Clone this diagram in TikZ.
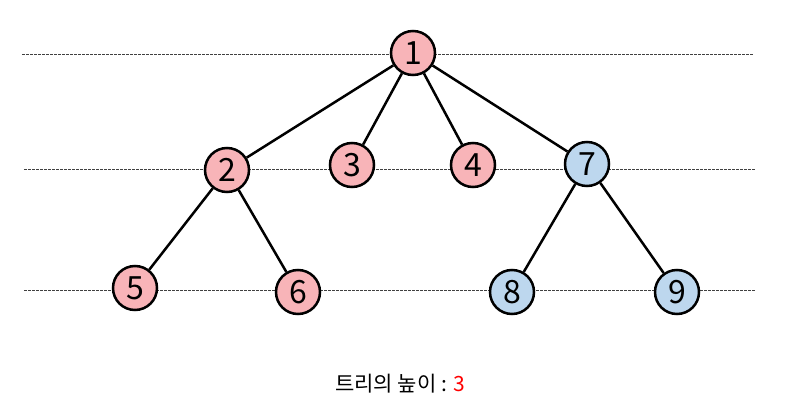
\documentclass[tikz,border=0pt]{standalone}
\usepackage{fontspec}
\setmainfont{Noto Sans CJK KR}
\begin{document}
\begin{tikzpicture}[x=1pt,y=-1pt,
  tnode/.style={circle,draw=black,line width=2.5pt,minimum size=44pt,inner sep=0pt,font=\fontsize{32}{32}\selectfont},
  pinknode/.style={tnode,fill=pinkfill},
  bluenode/.style={tnode,fill=bluefill},
  edge/.style={line width=2.5pt,draw=black},
  level/.style={draw=black!75,line width=0.8pt,dash pattern=on 2.5pt off 1.5pt}]
\definecolor{pinkfill}{RGB}{248,180,184}
\definecolor{bluefill}{RGB}{189,215,238}
\useasboundingbox (0,0) rectangle (795,404);
\coordinate (l1a) at (22,54); \coordinate (l1b) at (753,54);
\coordinate (l2a) at (24,169); \coordinate (l2b) at (756,169);
\coordinate (l3a) at (24,290); \coordinate (l3b) at (756,290);
\draw[level] (l1a) -- (l1b);
\draw[level] (l2a) -- (l2b);
\draw[level] (l3a) -- (l3b);
\node[pinknode] (n1) at (413,53) {1};
\node[pinknode] (n2) at (227,170) {2};
\node[pinknode] (n3) at (352,165) {3};
\node[pinknode] (n4) at (473,165) {4};
\node[bluenode] (n7) at (587,164) {7};
\node[pinknode] (n5) at (135,288) {5};
\node[pinknode] (n6) at (298,292) {6};
\node[bluenode] (n8) at (512,292) {8};
\node[bluenode] (n9) at (677,292) {9};
\draw[edge] (n1) -- (n2);
\draw[edge] (n1) -- (n3);
\draw[edge] (n1) -- (n4);
\draw[edge] (n1) -- (n7);
\draw[edge] (n2) -- (n5);
\draw[edge] (n2) -- (n6);
\draw[edge] (n7) -- (n8);
\draw[edge] (n7) -- (n9);
\node[font=\fontsize{21}{21}\selectfont] (cap) at (400,384) {트리의 높이 : \textcolor{red}{3}};
\end{tikzpicture}
\end{document}
